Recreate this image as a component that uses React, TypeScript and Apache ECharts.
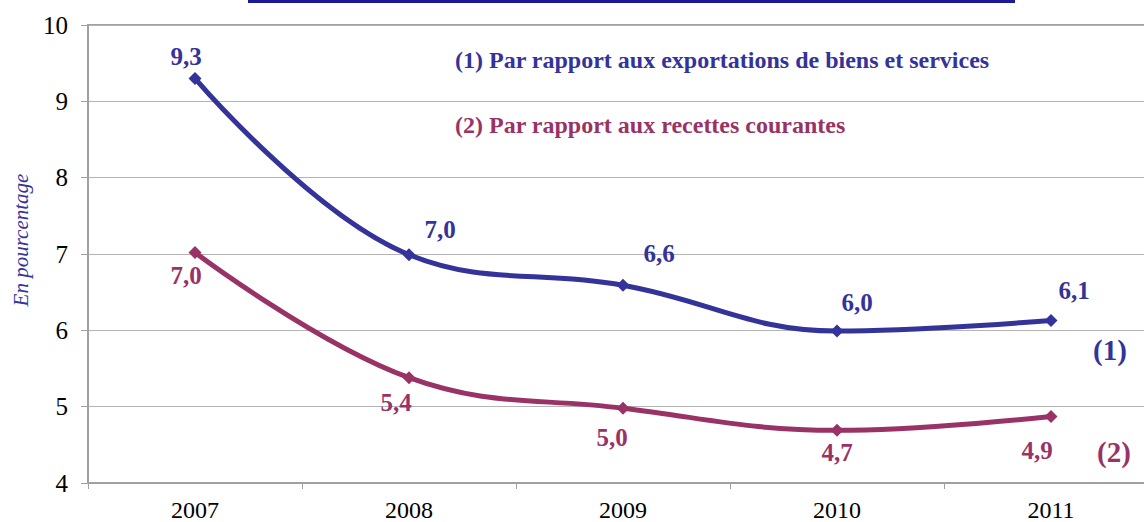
import React, { useEffect, useRef } from "react";
import * as echarts from "echarts";

const years = ["2007", "2008", "2009", "2010", "2011"];
const exportsRatio = [9.3, 6.99, 6.59, 5.99, 6.13];
const revenueRatio = [7.02, 5.38, 4.98, 4.69, 4.87];
const exportsLabelOffsets = [[-9, -22], [31, -25], [36, -32], [20, -29], [23, -30]];
const revenueLabelOffsets = [[-9, 23], [-13, 25], [-11, 29], [0, 22], [-14, 34]];
const yTicks = { min: 4, max: 10, interval: 1 };

const BLUE = "#333399";
const RED = "#993366";
const FONT = "Liberation Serif";

const fmt = (v: number) => v.toFixed(1).replace(".", ",");

export default function App() {
  const ref = useRef<HTMLDivElement>(null);
  useEffect(() => {
    if (!ref.current) return;
    const chart = echarts.init(ref.current, null, { renderer: "svg" });
    const mk = (vals: number[], offs: number[][], color: string) =>
      vals.map((v, i) => ({
        value: v,
        label: {
          show: true,
          position: "inside",
          offset: offs[i],
          formatter: () => fmt(v),
          color,
          fontFamily: FONT,
          fontWeight: "bold",
          fontSize: 25,
        },
      }));
    chart.setOption({
      animation: false,
      backgroundColor: "#ffffff",
      textStyle: { fontFamily: FONT },
      grid: {
        left: 88,
        top: 25,
        width: 1070,
        height: 458,
        show: true,
        borderColor: "#a0a0a0",
        borderWidth: 2,
        containLabel: false,
        outerBoundsMode: "none",
      },
      xAxis: {
        type: "category",
        data: years,
        boundaryGap: true,
        axisLine: { lineStyle: { color: "#a0a0a0", width: 2 } },
        axisTick: { show: true, length: 6, lineStyle: { color: "#a0a0a0", width: 1 } },
        axisLabel: { color: "#000", fontFamily: FONT, fontSize: 24, margin: 15 },
      },
      yAxis: {
        type: "value",
        min: yTicks.min,
        max: yTicks.max,
        interval: yTicks.interval,
        axisLine: { show: true, lineStyle: { color: "#a0a0a0", width: 2 } },
        axisTick: { show: true, length: 7, lineStyle: { color: "#a0a0a0" } },
        axisLabel: { color: "#000", fontFamily: FONT, fontSize: 25, margin: 20 },
        splitLine: { show: true, lineStyle: { color: "#b4b4b4", width: 1 } },
      },
      series: [
        {
          type: "line",
          data: mk(exportsRatio, exportsLabelOffsets, BLUE),
          smooth: 0.4,
          symbol: "diamond",
          symbolSize: 13,
          itemStyle: { color: BLUE },
          lineStyle: { color: BLUE, width: 5 },
        },
        {
          type: "line",
          data: mk(revenueRatio, revenueLabelOffsets, RED),
          smooth: 0.4,
          symbol: "diamond",
          symbolSize: 13,
          itemStyle: { color: RED },
          lineStyle: { color: RED, width: 5 },
        },
      ],
      graphic: [
        {
          type: "rect",
          shape: { x: 248, y: 0, width: 767, height: 3 },
          style: { fill: "#1a1a99" },
        },
        {
          type: "text",
          x: 21,
          y: 240,
          rotation: Math.PI / 2,
          style: {
            text: "En pourcentage",
            fill: BLUE,
            fontFamily: FONT,
            fontStyle: "italic",
            fontSize: 21,
            align: "center",
            verticalAlign: "middle",
          },
        },
        {
          type: "text",
          x: 455,
          y: 60,
          style: {
            text: "(1) Par rapport aux exportations de biens et services",
            fill: BLUE,
            fontFamily: FONT,
            fontWeight: "bold",
            fontSize: 24,
            verticalAlign: "middle",
          },
        },
        {
          type: "text",
          x: 455,
          y: 125,
          style: {
            text: "(2) Par rapport aux recettes courantes",
            fill: RED,
            fontFamily: FONT,
            fontWeight: "bold",
            fontSize: 24,
            verticalAlign: "middle",
          },
        },
        {
          type: "text",
          x: 1110,
          y: 350,
          style: {
            text: "(1)",
            fill: BLUE,
            fontFamily: FONT,
            fontWeight: "bold",
            fontSize: 29,
            align: "center",
            verticalAlign: "middle",
          },
        },
        {
          type: "text",
          x: 1114,
          y: 452,
          style: {
            text: "(2)",
            fill: RED,
            fontFamily: FONT,
            fontWeight: "bold",
            fontSize: 29,
            align: "center",
            verticalAlign: "middle",
          },
        },
      ],
    });
    return () => chart.dispose();
  }, []);
  return (
    <div
      ref={ref}
      style={{ position: "absolute", left: 0, top: 0, width: 1144, height: 522, background: "#fff" }}
    />
  );
}
